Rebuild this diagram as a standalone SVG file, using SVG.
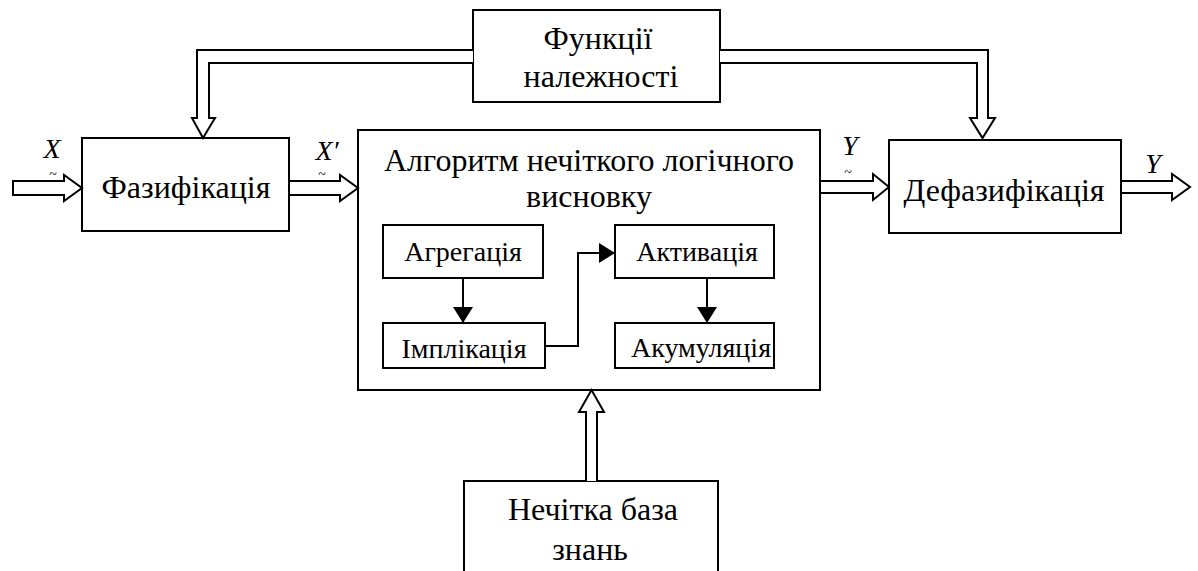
<svg xmlns="http://www.w3.org/2000/svg" width="1198" height="571" viewBox="0 0 1198 571">
<defs>
<style>
.box{fill:#fff;stroke:#000;stroke-width:2}
.dbl{fill:#fff;stroke:#000;stroke-width:2;stroke-linejoin:miter}
text{font-family:"Liberation Serif","DejaVu Serif",serif;fill:#000;text-anchor:middle}
.big{font-size:32px}
.mid{font-size:28px}
.lbl{font-style:italic;font-size:28px}
.tl{font-size:14px}
.ln{fill:none;stroke:#000;stroke-width:2}
</style>
<marker id="ah" viewBox="0 0 16 20" refX="16" refY="10" markerWidth="16" markerHeight="20" markerUnits="userSpaceOnUse" orient="auto">
<path d="M0,0 L16,10 L0,20 Z" fill="#000"/>
</marker>
</defs>
<rect width="1198" height="571" fill="#fff"/>

<g id="n-funk">
<rect class="box" x="473" y="10" width="247" height="92"/>
<text class="big" x="598" y="49">Функції</text>
<text class="big" x="601" y="87">належності</text>
</g>

<g id="n-faz">
<rect class="box" x="82" y="138" width="207" height="93"/>
<text class="big" x="186" y="198">Фазифікація</text>
</g>

<g id="n-alg">
<rect class="box" x="358" y="130" width="462" height="260"/>
<text class="big" x="589" y="171">Алгоритм нечіткого логічного</text>
<text class="big" x="589" y="207">висновку</text>
</g>

<g id="n-agr">
<rect class="box" x="383" y="225" width="160" height="53"/>
<text class="mid" x="463" y="261">Агрегація</text>
</g>
<g id="n-imp">
<rect class="box" x="383" y="323" width="162" height="45"/>
<text class="mid" x="464" y="358">Імплікація</text>
</g>
<g id="n-akt">
<rect class="box" x="615" y="225" width="159" height="53"/>
<text class="mid" x="697" y="261">Активація</text>
</g>
<g id="n-akum">
<rect class="box" x="615" y="323" width="159" height="45"/>
<text class="mid" x="701" y="357">Акумуляція</text>
</g>

<g id="n-defaz">
<rect class="box" x="889" y="140" width="232" height="93"/>
<text class="big" x="1004" y="201">Дефазифікація</text>
</g>

<g id="n-baza">
<rect class="box" x="464" y="481" width="254" height="100"/>
<text class="big" x="593" y="520">Нечітка база</text>
<text class="big" x="590" y="560">знань</text>
</g>

<g id="connectors">
<path class="dbl" d="M473,50 L197,50 L197,118 L192,118 L203,138 L215,118 L209,118 L209,63 L473,63"/>
<path class="dbl" d="M720,50 L988,50 L988,118 L995,118 L982.5,138 L970,118 L977,118 L977,63 L720,63"/>
<path class="dbl" d="M13,181 L64,181 L64,175 L82,188 L64,201 L64,195 L13,195 Z"/>
<path class="dbl" d="M289,181 L340,181 L340,175 L358,188 L340,201 L340,195 L289,195 Z"/>
<path class="dbl" d="M820,181 L873,181 L873,174 L889,187 L873,200 L873,193 L820,193 Z"/>
<path class="dbl" d="M1121,181 L1172,181 L1172,174 L1190,187 L1172,200 L1172,193 L1121,193 Z"/>
<path class="dbl" d="M586,481 L586,412 L579,412 L591.5,390 L604,412 L597,412 L597,481"/>
<path class="ln" d="M463,278 L463,323" marker-end="url(#ah)"/>
<path class="ln" d="M545,346 L578,346 L578,253 L615,253" marker-end="url(#ah)"/>
<path class="ln" d="M707,278 L707,323" marker-end="url(#ah)"/>
</g>

<g id="labels">
<text class="lbl" x="52" y="158">X</text>
<text class="tl" x="53" y="179">~</text>
<text class="lbl" x="327" y="160">X′</text>
<text class="tl" x="322" y="179">~</text>
<text class="lbl" x="850" y="155">Y</text>
<text class="tl" x="848" y="177">~</text>
<text class="lbl" x="1153" y="173">Y</text>
</g>
</svg>
